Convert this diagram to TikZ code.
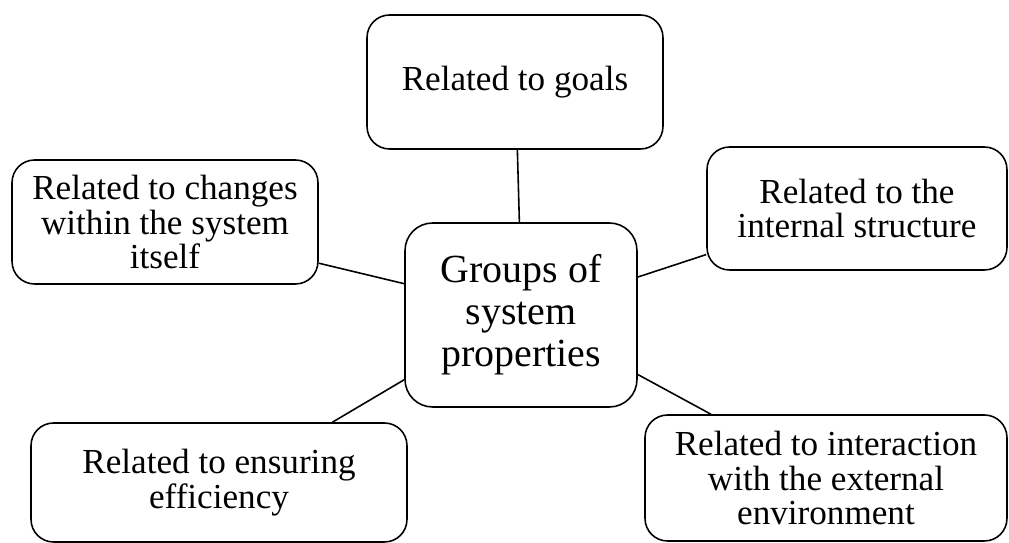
\documentclass[tikz,border=0pt]{standalone}
\usepackage{fontspec}
\setmainfont{Liberation Serif}
\usepackage{tikz}
\usetikzlibrary{positioning}

\begin{document}
\begin{tikzpicture}[
    x=0.02cm, y=-0.02cm,
    propbox/.style={rectangle, rounded corners=0.45cm, draw=black, fill=white, line width=0.9pt,
        align=center, inner sep=0pt, font=\fontsize{20}{19.8}\selectfont},
    hubbox/.style={rectangle, rounded corners=0.55cm, draw=black, fill=white, line width=0.9pt,
        align=center, inner sep=0pt, minimum width=4.64cm, minimum height=3.68cm,
        font=\fontsize{22.7}{23.8}\selectfont},
    link/.style={line width=0.9pt, draw=black},
]
\useasboundingbox (0,0) rectangle (1009,543);

% Central node
\node[hubbox] (groups) at (521,315) {Groups of\\system\\properties};

% Surrounding property groups
\node[propbox, minimum width=5.92cm, minimum height=2.68cm] (goals) at (515,82) {Related to goals};
\node[propbox, minimum width=6.12cm, minimum height=2.48cm] (changes) at (165,222) {Related to changes\\within the system\\itself};
\node[propbox, minimum width=6.0cm, minimum height=2.46cm] (structure) at (857,208.5) {Related to the\\internal structure};
\node[propbox, minimum width=7.52cm, minimum height=2.38cm] (efficiency) at (219,482.5) {Related to ensuring\\efficiency};
\node[propbox, minimum width=7.24cm, minimum height=2.52cm] (environment) at (826,478) {Related to interaction\\with the external\\environment};

% Links to the centre
\draw[link] (goals.-88.3) -- (groups.91.9);
\draw[link] (changes.-15) -- (groups.165);
\draw[link] (structure.-163) -- (groups.18.6);
\draw[link] (efficiency.28.6) -- (groups.-151);
\draw[link] (environment.151) -- (groups.-27.4);

\end{tikzpicture}
\end{document}
